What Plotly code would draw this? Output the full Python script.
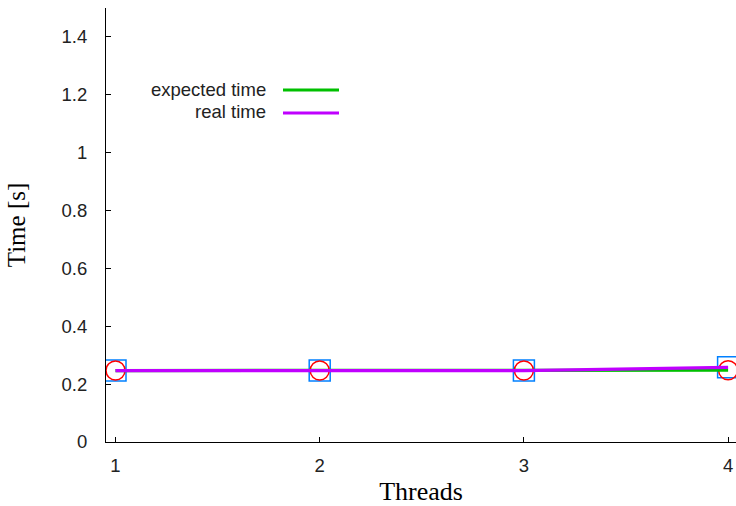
import plotly.graph_objects as go

# ---- data ----
threads = [1, 2, 3, 4]
expected_time = [0.247, 0.247, 0.247, 0.248]
real_time = [0.247, 0.247, 0.247, 0.258]
series_names = ["expected time", "real time"]
y_ticks = [0, 0.2, 0.4, 0.6, 0.8, 1, 1.2, 1.4]
y_tick_labels = ["0", "0.2", "0.4", "0.6", "0.8", "1", "1.2", "1.4"]
x_ticks = [1, 2, 3, 4]

# ---- layout constants ----
W, H = 736, 506
ML, MR, MT, MB = 106, 0, 8, 64
PW, PH = W - ML - MR, H - MT - MB

GREEN = "#00c000"
PURPLE = "#c000ff"
RED = "#ff0000"
BLUE = "#0080ff"

fig = go.Figure()

# points (no legend entries)
fig.add_trace(go.Scatter(x=threads, y=real_time, mode="markers", showlegend=False,
                         marker=dict(symbol="square-open", size=21, color=BLUE,
                                     line=dict(width=1.5, color=BLUE)),
                         hoverinfo="skip"))
fig.add_trace(go.Scatter(x=threads, y=expected_time, mode="markers", showlegend=False,
                         marker=dict(symbol="circle-open", size=19, color=RED,
                                     line=dict(width=1.5, color=RED)),
                         hoverinfo="skip"))
# lines
fig.add_trace(go.Scatter(x=threads, y=expected_time, mode="lines", name=series_names[0],
                         line=dict(color=GREEN, width=3.2), showlegend=False))
fig.add_trace(go.Scatter(x=threads, y=real_time, mode="lines", name=series_names[1],
                         line=dict(color=PURPLE, width=3.2), showlegend=False))

# gnuplot-style legend: text on the left, sample line on the right
def px_x(p):
    return (p - ML) / PW

def px_y(p):
    return (H - MB - p) / PH

legend_rows = [(series_names[0], GREEN, 90), (series_names[1], PURPLE, 113)]
for name, col, ypix in legend_rows:
    fig.add_annotation(x=px_x(268), y=px_y(ypix - 1), xref="paper", yref="paper",
                       text=name, showarrow=False, xanchor="right", yanchor="middle",
                       font=dict(family="Liberation Sans", size=18.5, color="#222222"))
    fig.add_shape(type="line", xref="paper", yref="paper",
                  x0=px_x(283), x1=px_x(339), y0=px_y(ypix), y1=px_y(ypix),
                  line=dict(color=col, width=3.2))

fig.update_layout(
    width=W, height=H,
    margin=dict(l=ML, r=MR, t=MT, b=MB, pad=0, autoexpand=False),
    paper_bgcolor="white", plot_bgcolor="white",
    showlegend=False,
    font=dict(family="Liberation Sans", size=18.5, color="#222222"),
)

fig.update_xaxes(
    range=[0.9535, 4.0387],
    tickvals=x_ticks, ticktext=[str(v) for v in x_ticks],
    ticks="inside", ticklen=5, tickwidth=1, tickcolor="black",
    showline=True, linecolor="black", linewidth=1.2,
    showgrid=False, zeroline=False, automargin=False,
    ticklabelstandoff=7,
    title=dict(text="Threads", font=dict(family="Liberation Serif", size=26, color="black"),
               standoff=15),
)
fig.update_yaxes(
    range=[0, 1.5],
    tickvals=y_ticks, ticktext=y_tick_labels,
    ticks="inside", ticklen=5, tickwidth=1, tickcolor="black",
    showline=True, linecolor="black", linewidth=1.2,
    showgrid=False, zeroline=False, automargin=False,
    ticklabelstandoff=14,
    title=dict(text="Time [s]", font=dict(family="Liberation Serif", size=25, color="black"),
               standoff=28),
)

fig.write_html("out.html")
